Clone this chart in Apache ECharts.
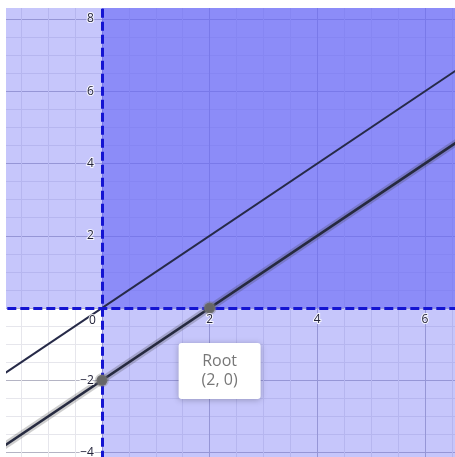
<!DOCTYPE html>
<html>
<head>
<meta charset="utf-8">
<script src="https://cdn.jsdelivr.net/npm/echarts@6/dist/echarts.min.js"></script>
<style>
  html, body { margin: 0; padding: 0; background: #fff; }
  #chart { width: 455px; height: 457px; }
</style>
</head>
<body>
<div id="chart"></div>
<script>
// view window (extends past the canvas so ticks start on round numbers)
const xRange = [-2, 8]
const yRange = [-6, 10]

// tick labels drawn along the axes
const xTickLabels = [2, 4, 6]
const yTickLabels = [8, 6, 4, 2, -2, -4]

// y = x  and  y = x - 2, given by their end points
const lineX = [-2, 8]
const lineAY = [-2, 8]
const lineBY = [-4, 6]

// marked points: root and y-intercept
const pointX = [2, 0]
const pointY = [0, -2]
const rootLabel = ['Root', '(2, 0)']

const chart = echarts.init(document.getElementById('chart'))

const fontFamily = '"Open Sans", Lato, sans-serif'
const minus = v => (v < 0 ? '\u2212' + Math.abs(v) : String(v))

const tickText = {
  show: true,
  color: '#24243a',
  fontSize: 12,
  fontFamily,
  textBorderColor: 'rgba(255,255,255,0.85)',
  textBorderWidth: 2
}

const axisCommon = {
  type: 'value',
  interval: 2,
  axisLine: { show: false },
  axisTick: { show: false },
  axisLabel: { show: false },
  splitLine: { show: true, lineStyle: { color: '#b4b4c4', width: 1 } },
  minorTick: { show: false, splitNumber: 4 },
  minorSplitLine: { show: true, lineStyle: { color: '#e6e6ec', width: 1 } }
}

chart.setOption({
  animation: false,
  backgroundColor: '#fff',
  grid: {
    left: -5.7, right: -77.6, top: -53.2, bottom: -67.8,
    containLabel: false,
    outerBoundsMode: 'none'
  },
  xAxis: { ...axisCommon, min: xRange[0], max: xRange[1] },
  yAxis: { ...axisCommon, min: yRange[0], max: yRange[1] },
  series: [
    {
      // shaded regions x > 0, y > 0 and the dashed boundaries
      type: 'line',
      data: [],
      silent: true,
      markArea: {
        silent: true,
        data: [
          [{ coord: [0, 0], itemStyle: { color: 'rgba(100,100,245,0.74)' } }, { coord: [xRange[1], yRange[1]] }],
          [{ coord: [0, yRange[0]], itemStyle: { color: 'rgba(100,100,245,0.37)' } }, { coord: [xRange[1], 0] }],
          [{ coord: [xRange[0], 0], itemStyle: { color: 'rgba(100,100,245,0.37)' } }, { coord: [0, yRange[1]] }]
        ]
      },
      markLine: {
        silent: true,
        symbol: ['none', 'none'],
        label: { show: false },
        lineStyle: { color: '#1414d2', width: 3, type: [9, 4] },
        data: [{ xAxis: 0 }, { yAxis: 0 }]
      }
    },
    {
      // glow under the selected line
      type: 'line',
      data: lineX.map((x, i) => [x, lineBY[i]]),
      symbol: 'none',
      lineStyle: { color: 'rgba(60,60,60,0.25)', width: 7 },
      z: 3
    },
    {
      name: 'y = x',
      type: 'line',
      data: lineX.map((x, i) => [x, lineAY[i]]),
      symbol: 'none',
      lineStyle: { color: '#262a48', width: 2 },
      z: 4
    },
    {
      name: 'y = x - 2',
      type: 'line',
      data: lineX.map((x, i) => [x, lineBY[i]]),
      symbol: 'none',
      lineStyle: { color: '#262a40', width: 2.5 },
      z: 4
    },
    {
      type: 'scatter',
      data: pointX.map((x, i) => [x, pointY[i]]),
      symbolSize: 11,
      itemStyle: { color: '#666', opacity: 1, borderColor: 'rgba(120,120,120,0.35)', borderWidth: 3 },
      z: 5
    },
    {
      // x tick labels under the x-axis
      type: 'scatter',
      data: xTickLabels.map(v => [v, 0]),
      symbolSize: 0,
      silent: true,
      itemStyle: { opacity: 1 },
      label: { ...tickText, position: 'bottom', distance: 6, formatter: p => minus(p.value[0]) },
      z: 6
    },
    {
      // y tick labels left of the y-axis
      type: 'scatter',
      data: yTickLabels.map(v => [0, v]),
      symbolSize: 0,
      silent: true,
      itemStyle: { opacity: 1 },
      label: { ...tickText, position: 'left', distance: 8, formatter: p => minus(p.value[1]) },
      z: 6
    },
    {
      // root callout and origin label
      type: 'scatter',
      data: [
        { value: [pointX[0], pointY[0]], label: {
          show: true,
          position: 'bottom',
          distance: 35,
          offset: [10, 0],
          formatter: rootLabel.join('\n'),
          color: '#777',
          fontSize: 16,
          lineHeight: 19,
          fontFamily,
          align: 'center',
          width: 82,
          padding: [9, 0],
          backgroundColor: '#fff',
          borderRadius: 3,
          shadowColor: 'rgba(0,0,0,0.25)',
          shadowBlur: 6,
          shadowOffsetY: 1
        } },
        { value: [0, 0], label: {
          ...tickText,
          position: 'left',
          distance: 6,
          offset: [0, 13],
          formatter: '0'
        } }
      ],
      symbolSize: 0,
      silent: true,
      itemStyle: { opacity: 1 },
      z: 6
    }
  ],
  graphic: [
    { type: 'rect', left: 0, top: 0, shape: { width: 455, height: 8 }, style: { fill: '#fff' }, z: 100 },
    { type: 'rect', left: 0, top: 0, shape: { width: 6, height: 457 }, style: { fill: '#fff' }, z: 100 }
  ]
})
</script>
</body>
</html>
